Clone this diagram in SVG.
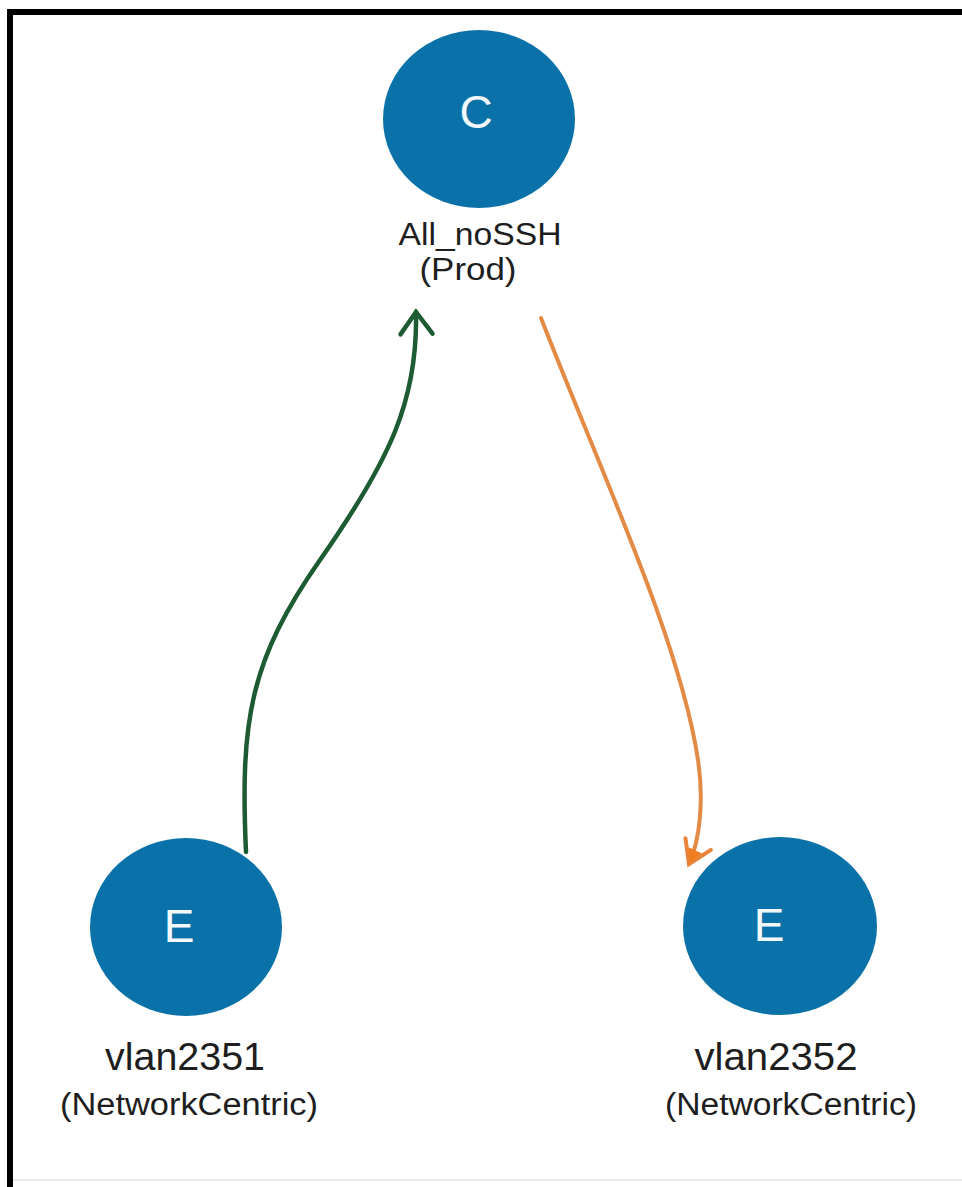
<svg xmlns="http://www.w3.org/2000/svg" width="962" height="1187" viewBox="0 0 962 1187">
  <style>
    .node { fill: #0b72a9; }
    .glyph { fill: #f2f8fc; font-family: "Liberation Sans", Arial, sans-serif; font-size: 46px; text-anchor: middle; }
    .name { fill: #1e1e1e; font-family: "Liberation Sans", Arial, sans-serif; text-anchor: middle; }
    .edge { fill: none; stroke-linecap: round; }
  </style>
  <defs>
    <marker id="arrowGreen" markerUnits="userSpaceOnUse" viewBox="-30 -20 40 40" refX="0" refY="0" markerWidth="40" markerHeight="40" orient="auto">
      <path d="M -22 -16 L 0 0 L -22 16" fill="none" stroke="#1d5c33" stroke-width="4.5" stroke-linejoin="miter" stroke-linecap="round"/>
    </marker>
    <marker id="arrowOrange" markerUnits="userSpaceOnUse" viewBox="-30 -20 40 40" refX="0" refY="0" markerWidth="40" markerHeight="40" orient="auto">
      <path d="M -22 -14 L 0 0 L -22 14" fill="none" stroke="#e8843a" stroke-width="4" stroke-linecap="round"/>
      <path d="M -15 -7 L 0 0 L -15 7 Z" fill="#ef7d22"/>
    </marker>
  </defs>
  <rect x="0" y="0" width="962" height="1187" fill="#ffffff"/>
  <g id="frame">
    <rect x="7" y="9" width="955" height="6" fill="#000000"/>
    <rect x="7" y="9" width="6" height="1178" fill="#000000"/>
    <line x1="13" y1="1180" x2="962" y2="1180" stroke="#e6e6e6" stroke-width="1.5"/>
  </g>
  <g id="connectors">
    <path class="edge" d="M 246 852 C 240 720, 250 660, 320 560 C 390 460, 418 400, 416 312" stroke="#1d5c33" stroke-width="4.5" marker-end="url(#arrowGreen)"/>
    <path class="edge" d="M 541 318 C 600 470, 680 640, 698 760 C 704 800, 700 840, 689 864" stroke="#e38a45" stroke-width="4" marker-end="url(#arrowOrange)"/>
  </g>
  <g id="node-all-nossh">
    <ellipse class="node" cx="479" cy="119" rx="96" ry="89"/>
    <text class="glyph" x="476" y="128">C</text>
    <text class="name" x="480" y="245" font-size="31" textLength="163" lengthAdjust="spacingAndGlyphs">All_noSSH</text>
    <text class="name" x="468" y="280" font-size="31" textLength="97" lengthAdjust="spacingAndGlyphs">(Prod)</text>
  </g>
  <g id="node-vlan2351">
    <ellipse class="node" cx="186" cy="927" rx="96" ry="89"/>
    <text class="glyph" x="179" y="942">E</text>
    <text class="name" x="185" y="1070" font-size="38" textLength="160" lengthAdjust="spacingAndGlyphs">vlan2351</text>
    <text class="name" x="189" y="1115" font-size="31" textLength="258" lengthAdjust="spacingAndGlyphs">(NetworkCentric)</text>
  </g>
  <g id="node-vlan2352">
    <ellipse class="node" cx="780" cy="926" rx="97" ry="89"/>
    <text class="glyph" x="769" y="941">E</text>
    <text class="name" x="776" y="1070" font-size="38" textLength="163" lengthAdjust="spacingAndGlyphs">vlan2352</text>
    <text class="name" x="791" y="1115" font-size="31" textLength="252" lengthAdjust="spacingAndGlyphs">(NetworkCentric)</text>
  </g>
</svg>
